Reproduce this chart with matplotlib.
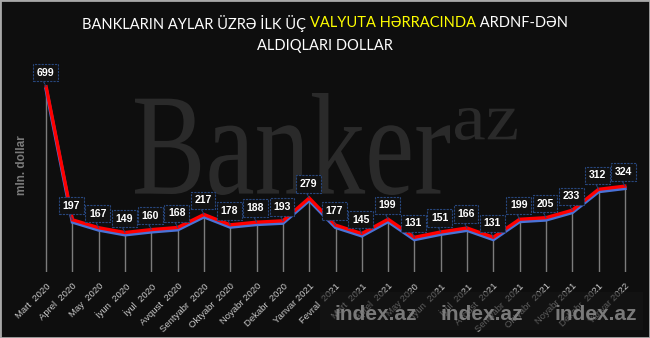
import matplotlib
matplotlib.use("Agg")
import matplotlib.pyplot as plt
from matplotlib.patches import Rectangle, PathPatch
from matplotlib.textpath import TextPath
from matplotlib.font_manager import FontProperties
from matplotlib.transforms import Affine2D, IdentityTransform, offset_copy

months = ["Mart  2020", "Aprel  2020", "May  2020", "İyun  2020", "İyul  2020",
          "Avqust  2020", "Sentyabr  2020", "Oktyabr  2020", "Noyabr 2020",
          "Dekabr  2020", "Yanvar 2021", "Fevral  2021", "Mart  2021",
          "Aprel  2021", "May 2020", "İyun  2021", "İyul  2021", "Avqust  2021",
          "Sentyabr  2021", "Oktyabr  2021", "Noyabr 2021", "Dekabr  2021",
          "Yanvar 2022"]
values = [699, 197, 167, 149, 160, 168, 217, 178, 188, 193, 279, 177, 145,
          199, 131, 151, 166, 131, 199, 205, 233, 312, 324]

title_parts = [("BANKLARIN AYLAR ÜZRƏ İLK ÜÇ ", "white"),
               ("VALYUTA HƏRRACINDA", "#ffff00"),
               (" ARDNF-DƏN", "white")]
title_line2 = "ALDIQLARI DOLLAR"

W, H = 650, 338
BG = "#0e0e0e"

fig = plt.figure(figsize=(W / 100, H / 100), dpi=100, facecolor=BG)


def fit_text(s, x0, y0, x1, y1, color, family="Liberation Serif"):
    # text drawn as a path, stretched into a pixel box (top-down coords)
    tp = TextPath((0, 0), s, size=100, prop=FontProperties(family=family))
    bb = tp.get_extents()
    tr = (Affine2D().translate(-bb.x0, -bb.y0)
          .scale((x1 - x0) / bb.width, (y1 - y0) / bb.height)
          .translate(x0, H - y1))
    patch = PathPatch(tr.transform_path(tp), transform=IdentityTransform(),
                      fc=color, ec="none", zorder=-1)
    fig.add_artist(patch)


# Banker.az watermark
fit_text("Banker", 135, 93, 450, 195, "#2a2a2a")
fit_text("az", 455, 108, 517, 140, "#2a2a2a")

ymax = 760
ax = fig.add_axes([33 / W, (H - 272) / H, 605 / W, (ymax * 0.265) / H])
ax.set_facecolor("none")
for s in ax.spines.values():
    s.set_visible(False)

x = list(range(len(values)))
ax.vlines(x, 0, values, color="#7c7c7c", lw=1, zorder=1)
shadow = offset_copy(ax.transData, fig=fig, x=0, y=-2.2, units="dots")
ax.plot(x, values, color="#4a72d6", lw=2.6, transform=shadow, zorder=2,
        solid_joinstyle="miter")
ax.plot(x, values, color="#ff0000", lw=2.4, zorder=3, solid_joinstyle="miter")

for xi, v in zip(x, values):
    ax.annotate(str(v), (xi, v), xytext=(-1, 14), textcoords="offset pixels",
                ha="center", va="center", fontsize=7.6, fontweight="bold",
                family="Liberation Sans", color="white", zorder=5,
                bbox=dict(boxstyle="square,pad=0.35", fc="#111111",
                          ec="#27467c", lw=0.8, ls=(0, (2, 1))),
                arrowprops=dict(arrowstyle="-", color="#27467c", lw=0.8,
                                ls=(0, (2, 1)), shrinkA=0, shrinkB=0,
                                relpos=(0.3, 0)))

ax.set_xlim(-0.5, len(values) - 0.5)
ax.set_ylim(0, ymax)
ax.set_yticks([])
ax.set_xticks(x)
ax.set_xticklabels(months, rotation=45, ha="right", rotation_mode="anchor",
                   fontsize=6.8, color="#c8c8c8", family="Liberation Sans")
ax.tick_params(axis="x", length=0, pad=7)

fig.text(22 / W, 1 - 165 / H, "mln. dollar", rotation=90, ha="center",
         va="center", fontsize=8.5, fontweight="bold", color="#7a7a7a",
         family="Liberation Sans")

# two-colour title line
fam = ["Lato", "DejaVu Sans"]
renderer = fig.canvas.get_renderer()
pieces = []
for txt, col in title_parts:
    t = fig.text(0, 1 - 23 / H, txt, ha="left", va="center", fontsize=10.5,
                 color=col, family=fam)
    pieces.append(t)
widths = [p.get_window_extent(renderer).width / W for p in pieces]
xpos = 0.5 - sum(widths) / 2
for p, w in zip(pieces, widths):
    p.set_x(xpos)
    xpos += w
fig.text(0.5, 1 - 46 / H, title_line2, ha="center", va="center",
         fontsize=10.5, color="white", family=fam)

# index.az band
fig.add_artist(Rectangle((320 / W, (H - 330) / H), 323 / W, 38 / H,
                         transform=fig.transFigure, fc="#161616", ec="none",
                         alpha=0.6, zorder=10))
for cx in [376, 482, 596]:
    fig.text(cx / W, 1 - 315 / H, "index.az", ha="center", va="center",
             fontsize=15, fontweight="bold", color="#8c8c8c", alpha=0.85,
             family="Liberation Sans", zorder=11)

fig.add_artist(Rectangle((0, 0), 1, 1, transform=fig.transFigure, fill=False,
                         ec="#a8a8a8", lw=2, zorder=12))

fig.savefig("out.png", dpi=100, facecolor=BG)
